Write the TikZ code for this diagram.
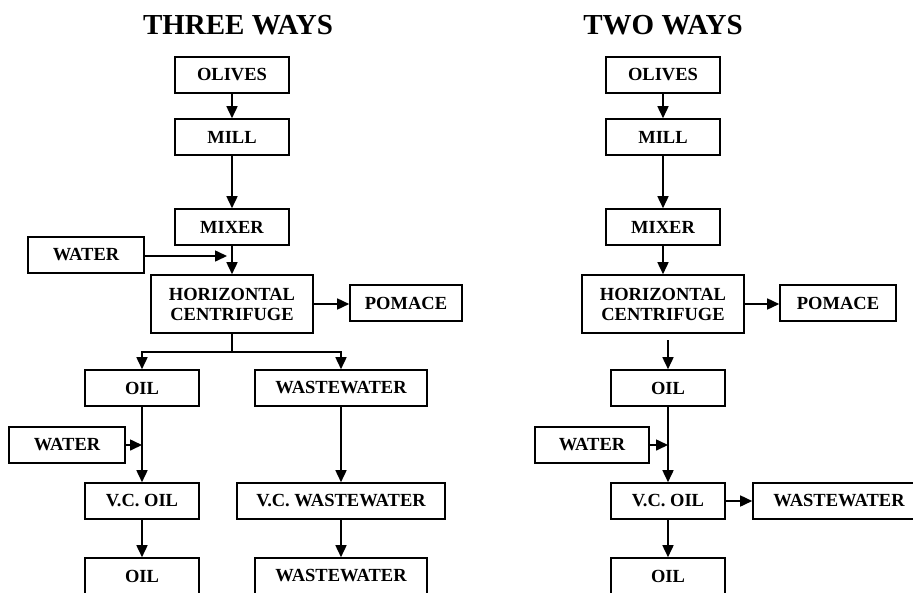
\documentclass[tikz,border=0pt]{standalone}
\usepackage{fontspec}
\setmainfont{Liberation Serif}
\usetikzlibrary{arrows.meta}
\begin{document}
\begin{tikzpicture}[x=1pt,y=-1pt,
  box/.style={draw, line width=1.6pt, inner sep=0pt, font=\fontsize{18.5}{20}\selectfont\bfseries, align=center},
  arr/.style={line width=1.6pt, -{Triangle[length=12pt,width=11pt]}},
  ln/.style={line width=1.6pt},
  ttl/.style={font=\fontsize{29}{31}\selectfont\bfseries}]
\useasboundingbox (0,0) rectangle (913,592);
\clip (0,0) rectangle (913,592);
% titles
\node[ttl] (t1) at (238,25) {THREE WAYS};
\node[ttl] (t2) at (663,25) {TWO WAYS};
% left column
\node[box, minimum width=114, minimum height=36] (o1) at (232,75) {OLIVES};
\node[box, minimum width=114, minimum height=36] (mill1) at (232,137) {MILL};
\node[box, minimum width=114, minimum height=36] (mix1) at (232,227) {MIXER};
\node[box, minimum width=116, minimum height=36] (water1) at (86,255) {WATER};
\node[box, minimum width=162, minimum height=58] (hc1) at (232,304) {HORIZONTAL\\CENTRIFUGE};
\node[box, minimum width=112, minimum height=36] (pom1) at (406,303) {POMACE};
\node[box, minimum width=114, minimum height=36] (oil1) at (142,388) {OIL};
\node[box, minimum width=172, minimum height=36] (ww1) at (341,388) {WASTEWATER};
\node[box, minimum width=116, minimum height=36] (water2) at (67,445) {WATER};
\node[box, minimum width=114, minimum height=36] (vcoil1) at (142,501) {V.C. OIL};
\node[box, minimum width=208, minimum height=36] (vcww1) at (341,501) {V.C. WASTEWATER};
\node[box, minimum width=114, minimum height=36] (oilb1) at (142,576) {OIL};
\node[box, minimum width=172, minimum height=36] (wwb1) at (341,576) {WASTEWATER};
% right column
\node[box, minimum width=114, minimum height=36] (o2) at (663,75) {OLIVES};
\node[box, minimum width=114, minimum height=36] (mill2) at (663,137) {MILL};
\node[box, minimum width=114, minimum height=36] (mix2) at (663,227) {MIXER};
\node[box, minimum width=162, minimum height=58] (hc2) at (663,304) {HORIZONTAL\\CENTRIFUGE};
\node[box, minimum width=116, minimum height=36] (pom2) at (838,303) {POMACE};
\node[box, minimum width=114, minimum height=36] (oil2) at (668,388) {OIL};
\node[box, minimum width=114, minimum height=36] (water3) at (592,445) {WATER};
\node[box, minimum width=114, minimum height=36] (vcoil2) at (668,501) {V.C. OIL};
\node[box, minimum width=172, minimum height=36] (ww2) at (839,501) {WASTEWATER};
\node[box, minimum width=114, minimum height=36] (oilb2) at (668,576) {OIL};
% coordinates
\coordinate (j1) at (227,256);
\coordinate (b1) at (232,352);
\coordinate (j2) at (142,445);
\coordinate (c2) at (668,340);
\coordinate (j3) at (668,445);
% left connectors
\draw[arr] (o1) -- (mill1);
\draw[arr] (mill1) -- (mix1);
\draw[arr] (mix1) -- (hc1);
\draw[arr] (water1.east |- j1) -- (j1);
\draw[arr] (hc1.east |- 0,304) -- (pom1.west |- 0,304);
\draw[ln] (hc1.south) -- (b1);
\draw[arr] (b1) -| (oil1.north);
\draw[arr] (b1) -| (ww1.north);
\draw[arr] (oil1) -- (vcoil1);
\draw[arr] (water2.east) -- (j2);
\draw[arr] (ww1) -- (vcww1);
\draw[arr] (vcoil1) -- (oilb1);
\draw[arr] (vcww1) -- (wwb1);
% right connectors
\draw[arr] (o2) -- (mill2);
\draw[arr] (mill2) -- (mix2);
\draw[arr] (mix2) -- (hc2);
\draw[arr] (hc2.east |- 0,304) -- (pom2.west |- 0,304);
\draw[arr] (c2) -- (oil2);
\draw[arr] (oil2) -- (vcoil2);
\draw[arr] (water3.east) -- (j3);
\draw[arr] (vcoil2) -- (ww2);
\draw[arr] (vcoil2) -- (oilb2);
\end{tikzpicture}
\end{document}
